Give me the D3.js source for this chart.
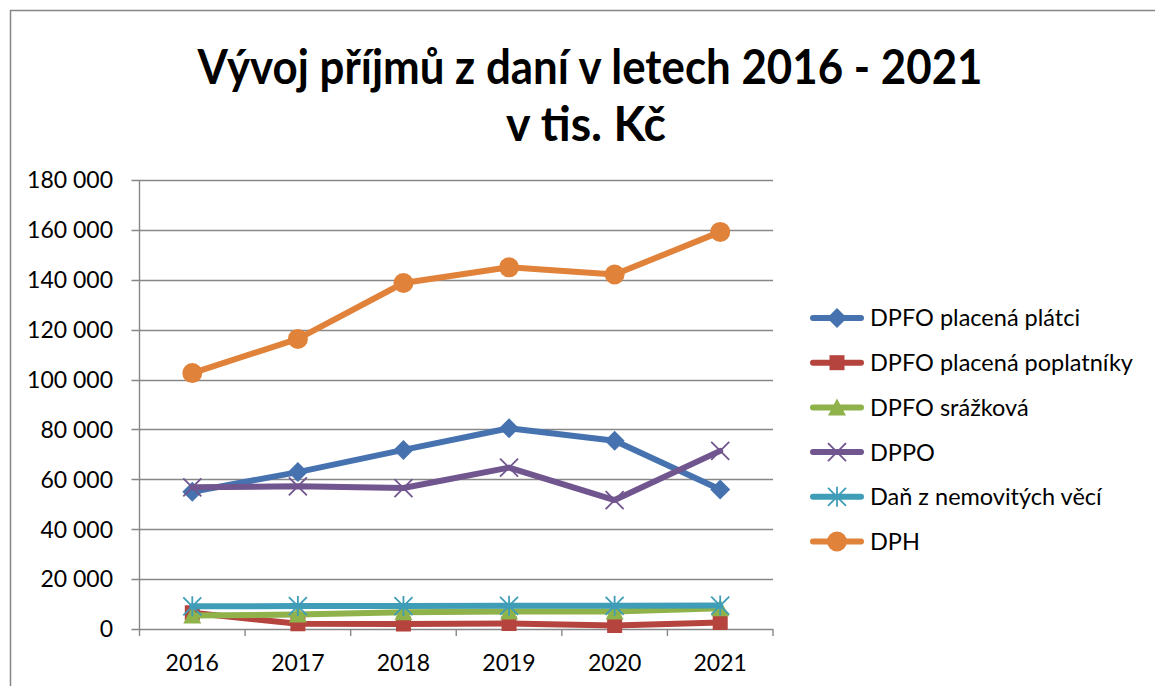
<!DOCTYPE html>
<html lang="cs">
<head>
<meta charset="UTF-8">
<title>Vývoj příjmů z daní v letech 2016 - 2021</title>
<script src="https://d3js.org/d3.v7.min.js"></script>
<style>
  body { margin: 0; background: #fff; }
  svg { display: block; font-family: Lato, "Open Sans", sans-serif; }
</style>
</head>
<body>
<div id="chart"></div>
<script>
// data (tis. Kč)
const years = ["2016", "2017", "2018", "2019", "2020", "2021"];
const seriesNames = ["DPFO placená plátci", "DPFO placená poplatníky", "DPFO srážková",
                     "DPPO", "Daň z nemovitých věcí", "DPH"];
const dpfoPlatci     = [55000, 62900, 71800, 80500, 75500, 55900];
const dpfoPoplatniky = [6500, 2100, 2000, 2200, 1400, 2600];
const dpfoSrazkova   = [5400, 5800, 6700, 7000, 7000, 8300];
const dppo           = [56800, 57200, 56500, 64700, 51700, 71400];
const danNemovitosti = [9100, 9200, 9200, 9300, 9300, 9400];
const dph            = [102600, 116300, 138700, 145000, 142100, 159200];
const yTicks = [0, 20000, 40000, 60000, 80000, 100000, 120000, 140000, 160000, 180000];

const seriesValues = [dpfoPlatci, dpfoPoplatniky, dpfoSrazkova, dppo, danNemovitosti, dph];
const colors  = ["#4673AF", "#B5443F", "#8FB24B", "#71558F", "#3F9DB8", "#E0823A"];
const markers = ["diamond", "square", "triangle", "cross", "star", "circle"];

const W = 1155, H = 686;
const plot = { left: 139.5, right: 773, top: 180, bottom: 629 };

const svg = d3.select("#chart").append("svg")
    .attr("width", W).attr("height", H);

// outer frame (cut off at right and bottom like the screenshot)
svg.append("rect")
    .attr("x", 10.5).attr("y", 10.5)
    .attr("width", W).attr("height", H)
    .attr("fill", "#fff").attr("stroke", "#868686").attr("stroke-width", 1.5);

// title
const title = svg.append("g").attr("font-weight", "bold").attr("fill", "#000")
    .attr("text-anchor", "middle");
title.append("text").attr("x", 590).attr("y", 84).attr("font-size", 48)
    .attr("textLength", 785).attr("lengthAdjust", "spacingAndGlyphs")
    .text("Vývoj příjmů z daní v letech 2016 - 2021");
title.append("text").attr("x", 586).attr("y", 141).attr("font-size", 48)
    .attr("textLength", 160).attr("lengthAdjust", "spacingAndGlyphs")
    .text("v tis. Kč");

const x = d3.scaleBand().domain(years).range([plot.left, plot.right]);
const cx = d => x(d) + x.bandwidth() / 2;
const y = d3.scaleLinear().domain([0, 180000]).range([plot.bottom, plot.top]);

// gridlines
svg.append("g").selectAll("line").data(yTicks).join("line")
    .attr("x1", plot.left - 8).attr("x2", plot.right)
    .attr("y1", d => Math.round(y(d)) + 0.5).attr("y2", d => Math.round(y(d)) + 0.5)
    .attr("stroke", "#878787").attr("stroke-width", 1.4);

// y axis line
svg.append("line").attr("x1", plot.left).attr("x2", plot.left)
    .attr("y1", plot.top).attr("y2", plot.bottom)
    .attr("stroke", "#878787").attr("stroke-width", 1.4);

// y labels
const fmt = v => d3.format(",")(v).replace(/,/g, " ");
svg.append("g").selectAll("text").data(yTicks).join("text")
    .attr("x", 113).attr("y", d => y(d)).attr("dy", "0.36em")
    .attr("text-anchor", "end").attr("font-size", 23).attr("fill", "#000")
    .text(fmt);

// x axis ticks
const xEdges = years.map(d => x(d)).concat([plot.right]);
svg.append("g").selectAll("line").data(xEdges).join("line")
    .attr("x1", d => d).attr("x2", d => d)
    .attr("y1", plot.bottom).attr("y2", plot.bottom + 7)
    .attr("stroke", "#878787").attr("stroke-width", 1.4);

svg.append("g").selectAll("text").data(years).join("text")
    .attr("x", cx).attr("y", 663).attr("dy", "0.36em")
    .attr("text-anchor", "middle").attr("font-size", 23).attr("fill", "#000")
    .text(d => d);

function drawMarker(g, type, color) {
  if (type === "diamond") {
    g.append("path").attr("d", "M0,-10L10,0L0,10L-10,0Z").attr("fill", color);
  } else if (type === "square") {
    g.append("rect").attr("x", -7.5).attr("y", -7.5).attr("width", 15).attr("height", 15).attr("fill", color);
  } else if (type === "triangle") {
    g.append("path").attr("d", "M0,-9L9,8L-9,8Z").attr("fill", color);
  } else if (type === "cross") {
    g.append("path").attr("d", "M-9,-9L9,9M-9,9L9,-9").attr("stroke", color).attr("stroke-width", 1.8);
  } else if (type === "star") {
    g.append("path").attr("d", "M-9,-9L9,9M-9,9L9,-9M0,-10L0,10")
        .attr("stroke", color).attr("stroke-width", 1.8);
  } else if (type === "circle") {
    g.append("circle").attr("r", 10).attr("fill", color);
  }
}

const line = d3.line().x((d, i) => cx(years[i])).y(d => y(d));

seriesValues.forEach((vals, s) => {
  const g = svg.append("g");
  g.append("path").datum(vals).attr("d", line)
      .attr("fill", "none").attr("stroke", colors[s]).attr("stroke-width", 6)
      .attr("stroke-linejoin", "round").attr("stroke-linecap", "round");
  vals.forEach((v, i) => {
    const m = g.append("g").attr("transform", `translate(${cx(years[i])},${y(v)})`);
    drawMarker(m, markers[s], colors[s]);
  });
});

// legend
const legend = svg.append("g");
seriesNames.forEach((name, i) => {
  const ly = 318 + i * 44.7;
  const g = legend.append("g").attr("transform", `translate(0,${ly})`);
  g.append("line").attr("x1", 813).attr("x2", 861).attr("y1", 0).attr("y2", 0)
      .attr("stroke", colors[i]).attr("stroke-width", 6).attr("stroke-linecap", "round");
  drawMarker(g.append("g").attr("transform", "translate(837,0)"), markers[i], colors[i]);
  g.append("text").attr("x", 870).attr("y", 0).attr("dy", "0.36em")
      .attr("font-size", 23.5).attr("fill", "#000").text(name);
});
</script>
</body>
</html>
